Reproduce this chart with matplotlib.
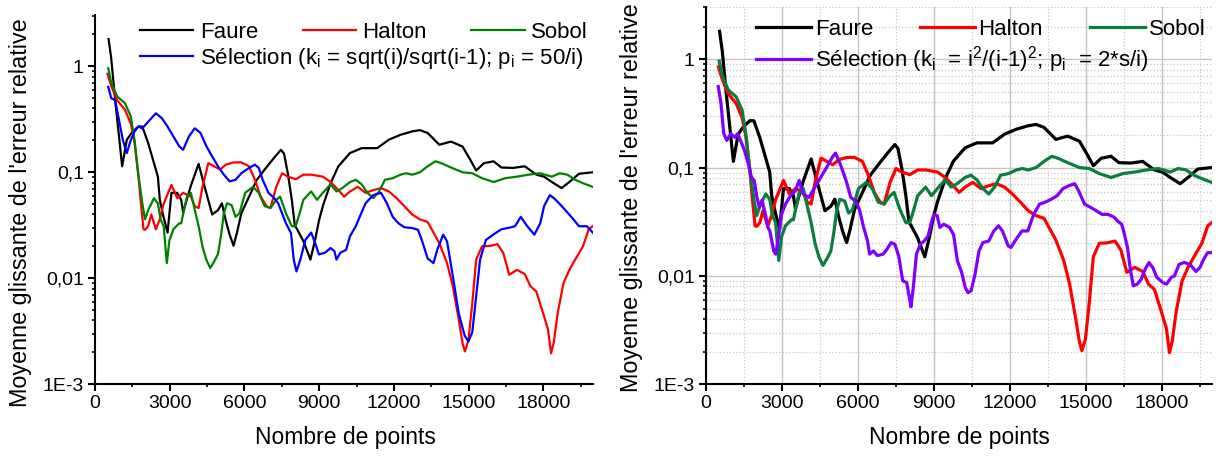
import numpy as np
import matplotlib
matplotlib.use('Agg')
import matplotlib.pyplot as plt
from matplotlib.ticker import FixedLocator, MultipleLocator, LogLocator, NullFormatter

plt.rcParams['font.family'] = ['Liberation Sans', 'DejaVu Sans']
plt.rcParams['mathtext.fontset'] = 'custom'
plt.rcParams['mathtext.rm'] = 'Liberation Sans'
plt.rcParams['mathtext.default'] = 'regular'

# moving average of the relative error, per sequence
faure_n = [545, 650, 810, 950, 1090, 1278, 1500, 1745, 1900, 2134, 2368, 2524, 2602, 2750, 2913,
           3069, 3300, 3460, 3537, 3850, 4160, 4394, 4705, 4940, 5095, 5250, 5400, 5562, 5700, 5873,
           6185, 6497, 6808, 7120, 7463, 7588, 7743, 7900, 8024, 8086, 8366, 8647, 8834, 8990, 9145,
           9457, 9769, 10236, 10703, 11015, 11327, 11794, 12262, 12729, 13040, 13352, 13820, 14287,
           14754, 15066, 15300, 15612, 16001, 16312, 16780, 17247, 17714, 18026, 18338, 18727, 19039,
           19429, 19974]
faure_err = [1.81, 1.2, 0.48, 0.235, 0.114, 0.203, 0.24, 0.271, 0.27, 0.189, 0.122, 0.091, 0.055,
             0.038, 0.027, 0.064, 0.064, 0.055, 0.042, 0.075, 0.12, 0.074, 0.040, 0.044, 0.051, 0.035,
             0.026, 0.0203, 0.027, 0.041, 0.059, 0.085, 0.106, 0.131, 0.163, 0.15, 0.097, 0.055, 0.031,
             0.0298, 0.0224, 0.015, 0.023, 0.035, 0.048, 0.079, 0.114, 0.152, 0.169, 0.169, 0.169, 0.203,
             0.226, 0.243, 0.25, 0.235, 0.182, 0.195, 0.175, 0.131, 0.104, 0.122, 0.127, 0.111, 0.11,
             0.114, 0.095, 0.091, 0.081, 0.071, 0.081, 0.097, 0.1]

halton_n = [499, 654, 888, 1200, 1433, 1589, 1745, 1854, 1948, 2010, 2134, 2260, 2446, 2600, 2750,
            3069, 3303, 3537, 3848, 4004, 4160, 4316, 4549, 4783, 5017, 5250, 5562, 5874, 6185, 6419,
            6653, 6886, 7042, 7276, 7510, 7743, 8055, 8366, 8678, 9145, 9457, 9769, 10002, 10236,
            10548, 10859, 11171, 11483, 11794, 12106, 12418, 12729, 13041, 13352, 13819, 14131, 14365,
            14599, 14754, 14848, 14988, 15144, 15300, 15533, 15845, 16157, 16390, 16624, 16936, 17247,
            17481, 17714, 17948, 18182, 18307, 18416, 18572, 18805, 19039, 19273, 19585, 19818, 19974]
halton_err = [0.85, 0.65, 0.48, 0.39, 0.29, 0.19, 0.091, 0.048, 0.029, 0.0287, 0.031, 0.04, 0.029,
              0.036, 0.05, 0.076, 0.057, 0.064, 0.059, 0.048, 0.046, 0.073, 0.122, 0.114, 0.106, 0.118,
              0.124, 0.124, 0.114, 0.085, 0.059, 0.048, 0.046, 0.073, 0.098, 0.091, 0.086, 0.095, 0.095,
              0.091, 0.081, 0.068, 0.059, 0.066, 0.073, 0.064, 0.068, 0.071, 0.066, 0.057, 0.048, 0.040,
              0.036, 0.034, 0.0215, 0.0139, 0.0084, 0.0041, 0.00244, 0.00204, 0.0026, 0.0058, 0.015,
              0.02, 0.0202, 0.021, 0.0173, 0.0108, 0.012, 0.011, 0.0084, 0.0075, 0.005, 0.0033, 0.00196,
              0.0025, 0.0047, 0.009, 0.012, 0.015, 0.02, 0.029, 0.031]

sobol_n = [530, 654, 888, 1200, 1433, 1589, 1745, 1900, 2010, 2134, 2368, 2524, 2633, 2758, 2882,
           2991, 3147, 3381, 3459, 3692, 3848, 4000, 4160, 4316, 4471, 4627, 4783, 4939, 5064, 5173,
           5297, 5484, 5640, 5796, 6030, 6341, 6575, 6808, 7042, 7276, 7432, 7665, 7899, 8055, 8200,
           8366, 8678, 8912, 9145, 9457, 9691, 9925, 10236, 10470, 10703, 10937, 11171, 11404, 11638,
           11950, 12262, 12495, 12729, 13041, 13352, 13664, 13898, 14287, 14754, 15144, 15533, 16001,
           16468, 16936, 17403, 17870, 18338, 18649, 18961, 19273, 19585, 19974]
sobol_err = [0.96, 0.70, 0.52, 0.45, 0.34, 0.20, 0.093, 0.051, 0.036, 0.044, 0.057, 0.051, 0.036,
             0.031, 0.0139, 0.023, 0.029, 0.033, 0.033, 0.059, 0.064, 0.045, 0.031, 0.0199, 0.0149,
             0.0125, 0.0144, 0.017, 0.026, 0.041, 0.051, 0.049, 0.038, 0.041, 0.064, 0.073, 0.064,
             0.048, 0.046, 0.055, 0.059, 0.041, 0.031, 0.031, 0.04, 0.055, 0.066, 0.055, 0.064, 0.077,
             0.066, 0.071, 0.081, 0.085, 0.077, 0.064, 0.057, 0.066, 0.085, 0.088, 0.095, 0.098, 0.095,
             0.1, 0.114, 0.127, 0.122, 0.111, 0.1, 0.098, 0.088, 0.081, 0.088, 0.091, 0.095, 0.098,
             0.091, 0.098, 0.095, 0.085, 0.079, 0.073]

# selection with k_i = sqrt(i)/sqrt(i-1), p_i = 50/i
sel1_n = [530, 654, 810, 966, 1122, 1278, 1433, 1589, 1745, 1900, 2134, 2446, 2680, 2913, 3147,
          3381, 3537, 3770, 4004, 4238, 4472, 4705, 4939, 5173, 5407, 5640, 5874, 6185, 6419, 6575,
          6731, 6964, 7198, 7354, 7510, 7666, 7868, 7977, 8086, 8242, 8444, 8678, 8834, 8990, 9224,
          9457, 9613, 9691, 9847, 10080, 10236, 10470, 10626, 10859, 11171, 11483, 11716, 11950,
          12184, 12418, 12729, 12963, 13118, 13352, 13586, 13742, 13976, 14131, 14365, 14599, 14832,
          14988, 15144, 15300, 15456, 15690, 16001, 16312, 16624, 16858, 17092, 17350, 17636, 17870,
          18026, 18260, 18494, 18805, 19117, 19429, 19740, 20000]
sel1_err = [0.64, 0.50, 0.48, 0.31, 0.20, 0.152, 0.2, 0.243, 0.27, 0.26, 0.30, 0.36, 0.325, 0.27,
            0.218, 0.176, 0.163, 0.218, 0.26, 0.235, 0.176, 0.141, 0.114, 0.095, 0.082, 0.085, 0.098,
            0.11, 0.118, 0.11, 0.085, 0.064, 0.057, 0.051, 0.041, 0.033, 0.0267, 0.015, 0.0116, 0.015,
            0.023, 0.027, 0.0215, 0.0168, 0.0174, 0.0193, 0.018, 0.015, 0.0174, 0.0186, 0.025, 0.031,
            0.038, 0.051, 0.061, 0.064, 0.051, 0.038, 0.033, 0.0303, 0.0298, 0.0287, 0.023, 0.0154,
            0.0139, 0.0187, 0.0258, 0.0223, 0.0104, 0.0047, 0.0029, 0.00253, 0.0031, 0.0068, 0.015,
            0.023, 0.026, 0.029, 0.03, 0.031, 0.038, 0.031, 0.0258, 0.033, 0.048, 0.061, 0.055, 0.046,
            0.038, 0.031, 0.031, 0.0267]

# selection with k_i = i^2/(i-1)^2, p_i = 2*s/i
sel2_n = [494, 602, 710, 833, 988, 1142, 1250, 1373, 1528, 1682, 1805, 1913, 2021, 2114, 2222,
          2376, 2453, 2530, 2685, 2762, 2885, 2993, 3148, 3302, 3533, 3688, 3842, 4074, 4305, 4536,
          4768, 4999, 5123, 5308, 5539, 5725, 5925, 6079, 6234, 6388, 6465, 6620, 6774, 7005, 7160,
          7314, 7468, 7622, 7776, 7931, 8039, 8101, 8193, 8317, 8471, 8626, 8780, 8903, 9011, 9135,
          9243, 9397, 9628, 9783, 9937, 10091, 10246, 10354, 10477, 10631, 10786, 10940, 11171,
          11372, 11557, 11712, 11943, 12051, 12252, 12483, 12714, 12946, 13177, 13409, 13640, 13872,
          14103, 14335, 14566, 14720, 14952, 15183, 15415, 15646, 15878, 16109, 16263, 16418, 16495,
          16649, 16772, 16880, 17035, 17189, 17343, 17498, 17652, 17806, 18038, 18192, 18377, 18501,
          18686, 18886, 19118, 19349, 19504, 19658, 19812, 20000]
sel2_err = [0.56, 0.39, 0.205, 0.178, 0.205, 0.19, 0.205, 0.178, 0.144, 0.108, 0.081, 0.076, 0.053,
            0.043, 0.05, 0.035, 0.028, 0.026, 0.017, 0.0159, 0.024, 0.037, 0.046, 0.053, 0.061, 0.076,
            0.057, 0.053, 0.066, 0.081, 0.1, 0.125, 0.136, 0.108, 0.076, 0.053, 0.049, 0.04, 0.028,
            0.021, 0.0159, 0.017, 0.0154, 0.0159, 0.0177, 0.0203, 0.0196, 0.0151, 0.009, 0.0087,
            0.0063, 0.0052, 0.0078, 0.0159, 0.0196, 0.021, 0.0234, 0.031, 0.037, 0.036, 0.028, 0.03,
            0.028, 0.024, 0.0137, 0.011, 0.0078, 0.007, 0.0073, 0.0104, 0.017, 0.0203, 0.021, 0.026,
            0.029, 0.026, 0.0189, 0.0183, 0.0218, 0.026, 0.026, 0.037, 0.046, 0.048, 0.051, 0.055,
            0.064, 0.068, 0.071, 0.061, 0.046, 0.043, 0.04, 0.037, 0.037, 0.035, 0.032, 0.03, 0.026,
            0.0183, 0.011, 0.0081, 0.0084, 0.0093, 0.0115, 0.0133, 0.0119, 0.0097, 0.0087, 0.0084,
            0.0097, 0.01, 0.0128, 0.0133, 0.0128, 0.011, 0.0119, 0.0143, 0.0164, 0.0164]

y_ticks = [1e-3, 1e-2, 1e-1, 1]
y_labels = ['1E-3', '0,01', '0,1', '1']
x_ticks = [0, 3000, 6000, 9000, 12000, 15000, 18000]

sel1_label = 'Sélection (k$_{i}$ = sqrt(i)/sqrt(i-1); p$_{i}$ = 50/i)'
sel2_label = 'Sélection (k$_{i}$  = i$^{2}$/(i-1)$^{2}$; p$_{i}$  = 2*s/i)'


def style_axes(ax):
    ax.set_yscale('log')
    ax.set_xlim(0, 20000)
    ax.set_ylim(1e-3, 3.05)
    ax.xaxis.set_major_locator(FixedLocator(x_ticks))
    ax.set_xticklabels([str(t) for t in x_ticks])
    ax.xaxis.set_minor_locator(MultipleLocator(1500))
    ax.yaxis.set_major_locator(FixedLocator(y_ticks))
    ax.set_yticklabels(y_labels)
    ax.yaxis.set_minor_locator(LogLocator(base=10, subs=np.arange(2, 10)))
    ax.yaxis.set_minor_formatter(NullFormatter())
    for s in ['top', 'right']:
        ax.spines[s].set_visible(False)
    for s in ['left', 'bottom']:
        ax.spines[s].set_linewidth(1.5)
    ax.tick_params(which='major', direction='out', length=5, width=1.5, labelsize=14, pad=3)
    ax.tick_params(which='minor', direction='out', length=2.5, width=1.2)
    ax.set_xlabel('Nombre de points', fontsize=16.5)
    ax.set_ylabel("Moyenne glissante de l'erreur relative", fontsize=16.8)


fig = plt.figure(figsize=(12.24, 4.57), dpi=100)
ax1 = fig.add_axes([0.0776, 0.1591, 0.4071, 0.8081])
ax2 = fig.add_axes([0.5766, 0.1591, 0.4139, 0.8262])

# left panel
lw1 = 1.6
l_f, = ax1.plot(faure_n, faure_err, color='black', lw=lw1, label='Faure')
l_h, = ax1.plot(halton_n, halton_err, color='#ff0000', lw=lw1, label='Halton')
l_s, = ax1.plot(sobol_n, sobol_err, color='#008000', lw=lw1, label='Sobol')
l_1, = ax1.plot(sel1_n, sel1_err, color='#0000ff', lw=lw1, label=sel1_label)
style_axes(ax1)
ax1.xaxis.set_label_coords(0.502, -0.112)
ax1.yaxis.set_label_coords(-0.126, 0.464)

leg_kw = dict(frameon=False, fontsize=16, borderpad=0, borderaxespad=0, handletextpad=0.3)
leg_a = ax1.legend(handles=[l_f, l_h, l_s], loc='upper left', bbox_to_anchor=(0.09, 0.982),
                   ncol=3, handlelength=2.4, columnspacing=2.0, **leg_kw)
ax1.add_artist(leg_a)
ax1.legend(handles=[l_1], loc='upper left', bbox_to_anchor=(0.09, 0.916),
           handlelength=2.4, **leg_kw)

# right panel
lw2 = 2.3
r_f, = ax2.plot(faure_n, faure_err, color='black', lw=lw2, label='Faure')
r_h, = ax2.plot(halton_n, halton_err, color='#ff0000', lw=lw2, label='Halton')
r_s, = ax2.plot(sobol_n, sobol_err, color='#0b7d3e', lw=lw2, label='Sobol')
r_2, = ax2.plot(sel2_n, sel2_err, color='#8000ff', lw=lw2, label=sel2_label)
style_axes(ax2)
ax2.set_axisbelow(True)
ax2.grid(which='major', color='#c4c4c4', lw=1.0, ls='-')
ax2.grid(which='minor', color='#c8c8c8', lw=0.9, ls=':')
ax2.xaxis.set_label_coords(0.5, -0.11)
ax2.yaxis.set_label_coords(-0.124, 0.495)

leg_kw2 = dict(leg_kw, handletextpad=0.15)
leg_b = ax2.legend(handles=[r_f, r_h, r_s], loc='upper left', bbox_to_anchor=(0.099, 0.968),
                   ncol=3, handlelength=2.5, columnspacing=2.1, **leg_kw2)
ax2.add_artist(leg_b)
ax2.legend(handles=[r_2], loc='upper left', bbox_to_anchor=(0.099, 0.9),
           handlelength=2.5, **leg_kw2)

fig.savefig('out.png', dpi=100)
